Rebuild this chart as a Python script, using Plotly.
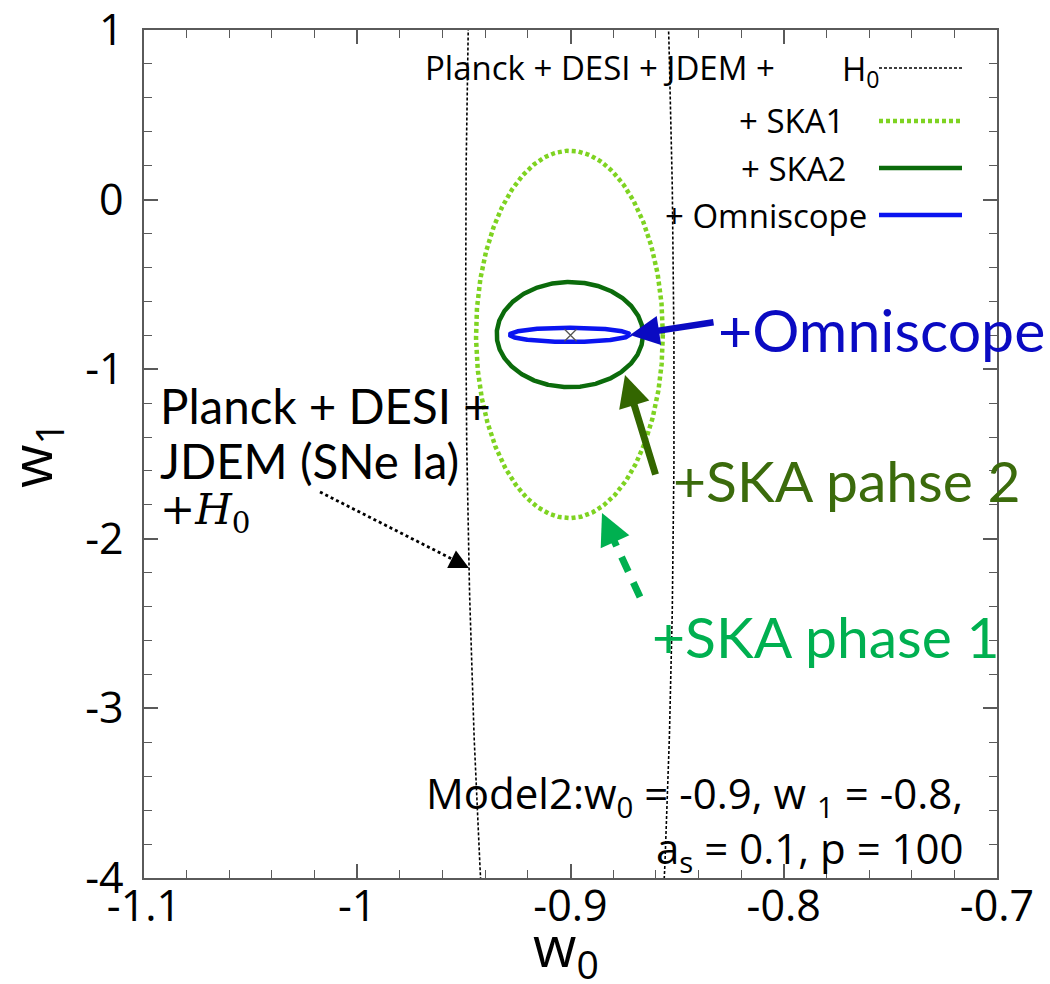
import numpy as np
import plotly.graph_objects as go

# ---------------- data ----------------
fid_w0 = [-0.9]
fid_w1 = [-0.8]
ref_w0 = -1.0
ref_w1 = -1.0

ell_names = ["Planck + DESI + JDEM + H0", "+ SKA1", "+ SKA2", "+ Omniscope"]
ell_cx = [-0.9003, -0.9005, -0.9003, -0.9003]
ell_cy = [-0.825, -0.795, -0.796, -0.797]
ell_sx = [0.0488, 0.0438, 0.0343, 0.0281]
ell_sy = [6.76, 1.083, 0.310, 0.042]
ell_shear = [-0.00038, 0.0, 0.0, 0.0]   # dx/dy drift of the contour centre

x_ticks = [-1.1, -1.0, -0.9, -0.8, -0.7]
x_tick_text = ["-1.1", "-1", "-0.9", "-0.8", "-0.7"]
y_ticks = [1, 0, -1, -2, -3, -4]
y_tick_text = ["1", "0", "-1", "-2", "-3", "-4"]

# ---------------- layout geometry ----------------
W, H = 1050, 984
L, R, T, B = 144, 997, 30, 878
XR = [-1.1, -0.7]
YR = [-4, 1]


def px2x(px):
    return XR[0] + (px - L) / (R - L) * (XR[1] - XR[0])


def py2y(py):
    return YR[1] - (py - T) / (B - T) * (YR[1] - YR[0])


def ppx(px):
    return (px - L) / (R - L)


def ppy(py):
    return (B - py) / (B - T)


styles = [
    dict(color="black", width=1.6, dash="3px,2px"),
    dict(color="#7ed321", width=4.5, dash="4px,3px"),
    dict(color="#0b6b0b", width=4.5, dash="solid"),
    dict(color="#0a14f0", width=4.5, dash="solid"),
]

fig = go.Figure()

t = np.linspace(0, 2 * np.pi, 721)
for i in range(len(ell_names)):
    ys = ell_cy[i] + ell_sy[i] * np.sin(t)
    xs = ell_cx[i] + ell_sx[i] * np.cos(t) + ell_shear[i] * (ys - ell_cy[i])
    fig.add_trace(go.Scatter(x=xs, y=ys, mode="lines", line=styles[i],
                             name=ell_names[i], showlegend=False,
                             hoverinfo="skip", cliponaxis=True))

fig.add_trace(go.Scatter(x=fid_w0, y=fid_w1, mode="markers",
                         marker=dict(symbol="x-thin", size=12,
                                     line=dict(color="#555555", width=1.3)),
                         showlegend=False))

fig.add_vline(x=ref_w0, line=dict(color="#555555", width=1.5), layer="below")
fig.add_hline(y=ref_w1, line=dict(color="#555555", width=1.5), layer="below")

ann = []
shapes = []

# ---- manual key (gnuplot style) ----
key_rows = [68, 121, 168, 215]
key_font = dict(family="Open Sans", size=33, color="black")
ann.append(dict(xref="paper", yref="paper", x=ppx(777), y=ppy(key_rows[0]),
                text="Planck + DESI + JDEM +", showarrow=False,
                xanchor="right", yanchor="middle", font=key_font))
ann.append(dict(xref="paper", yref="paper", x=ppx(840), y=ppy(key_rows[0] + 2),
                text="H<sub>0</sub>", showarrow=False,
                xanchor="left", yanchor="middle", font=key_font))
key_text = ["+ SKA1", "+ SKA2", "+ Omniscope"]
key_end = [846, 848, 869]
for i in range(3):
    ann.append(dict(xref="paper", yref="paper", x=ppx(key_end[i]),
                    y=ppy(key_rows[i + 1]), text=key_text[i],
                    showarrow=False, xanchor="right", yanchor="middle",
                    font=key_font))
for i in range(4):
    st = styles[i]
    fig.add_trace(go.Scatter(x=[px2x(879), px2x(962)],
                             y=[py2y(key_rows[i]), py2y(key_rows[i])],
                             mode="lines", line=st, showlegend=False,
                             hoverinfo="skip"))

# ---- big labels ----
gfont = "Lato"
ann.append(dict(xref="paper", yref="paper", x=ppx(716), y=ppy(329),
                text="+Omniscope", showarrow=False, xanchor="left",
                yanchor="middle",
                font=dict(family=gfont, size=59, color="#0a0ac2")))
ann.append(dict(xref="paper", yref="paper", x=ppx(671), y=ppy(480),
                text="+SKA pahse 2", showarrow=False, xanchor="left",
                yanchor="middle",
                font=dict(family=gfont, size=57, color="#3b6b0c")))
ann.append(dict(xref="paper", yref="paper", x=ppx(650), y=ppy(636),
                text="+SKA phase 1", showarrow=False, xanchor="left",
                yanchor="middle",
                font=dict(family=gfont, size=57, color="#00b050")))
for txt, yy in [("Planck + DESI +", 405), ("JDEM (SNe Ia)", 460)]:
    ann.append(dict(xref="paper", yref="paper", x=ppx(158), y=ppy(yy),
                    text=txt, showarrow=False, xanchor="left",
                    yanchor="middle",
                    font=dict(family=gfont, size=47.5, color="black")))
ann.append(dict(xref="paper", yref="paper", x=ppx(158), y=ppy(512),
                text="+<i>H</i><sub>0</sub>", showarrow=False,
                xanchor="left", yanchor="middle",
                font=dict(family="DejaVu Serif", size=42, color="black")))

# Model text
ann.append(dict(xref="paper", yref="paper", x=ppx(965), y=ppy(795),
                text="Model2:w<sub>0</sub> = -0.9, w <sub>1</sub> = -0.8,",
                showarrow=False, xanchor="right", yanchor="middle",
                font=dict(family="Open Sans", size=42, color="black")))
ann.append(dict(xref="paper", yref="paper", x=ppx(966), y=ppy(850),
                text="a<sub>s</sub> = 0.1, p = 100",
                showarrow=False, xanchor="right", yanchor="middle",
                font=dict(family="Open Sans", size=42, color="black")))

# axis titles as annotations
ann.append(dict(xref="paper", yref="paper", x=ppx(34), y=ppy(455),
                text="w<sub>1</sub>", showarrow=False, textangle=-90,
                xanchor="center", yanchor="middle",
                font=dict(family="Open Sans", size=56, color="black")))
ann.append(dict(xref="paper", yref="paper", x=ppx(566), y=ppy(949),
                text="w<sub>0</sub>", showarrow=False,
                xanchor="center", yanchor="middle",
                font=dict(family="Open Sans", size=56, color="black")))

# ---- arrows ----
# blue solid
ann.append(dict(xref="x", yref="y", axref="x", ayref="y",
                x=px2x(630), y=py2y(335), ax=px2x(715), ay=py2y(322),
                text="", showarrow=True, arrowhead=2, arrowsize=0.9,
                arrowwidth=6.5, arrowcolor="#0a0ac2"))
# dark green solid
ann.append(dict(xref="x", yref="y", axref="x", ayref="y",
                x=px2x(625), y=py2y(375), ax=px2x(656), ay=py2y(476),
                text="", showarrow=True, arrowhead=2, arrowsize=0.9,
                arrowwidth=7, arrowcolor="#336600"))
# green dashed
shapes.append(dict(type="line", xref="x", yref="y",
                   x0=px2x(640), y0=py2y(597), x1=px2x(610), y1=py2y(532),
                   line=dict(color="#00b050", width=7, dash="16px,12px")))
ann.append(dict(xref="x", yref="y", axref="x", ayref="y",
                x=px2x(602), y=py2y(513), ax=px2x(612), ay=py2y(535),
                text="", showarrow=True, arrowhead=2, arrowsize=0.9,
                arrowwidth=7, arrowcolor="#00b050"))
# black dotted
shapes.append(dict(type="line", xref="x", yref="y",
                   x0=px2x(320), y0=py2y(492), x1=px2x(456), y1=py2y(561),
                   line=dict(color="black", width=2.8, dash="dot")))
ann.append(dict(xref="x", yref="y", axref="x", ayref="y",
                x=px2x(469), y=py2y(568), ax=px2x(455), ay=py2y(561),
                text="", showarrow=True, arrowhead=2, arrowsize=1.3,
                arrowwidth=3, arrowcolor="black"))

axis_common = dict(showgrid=False, zeroline=False, showline=True,
                   linecolor="#5a5a5a", linewidth=1.5, mirror="allticks",
                   ticks="inside", ticklen=14, tickwidth=1.5,
                   tickcolor="#5a5a5a", automargin=False,
                   tickfont=dict(family="Open Sans", size=43, color="black"))

fig.update_layout(
    width=W, height=H,
    margin=dict(l=L, r=W - R, t=T, b=H - B),
    plot_bgcolor="white", paper_bgcolor="white",
    showlegend=False,
    annotations=ann, shapes=shapes,
    xaxis=dict(range=XR, tickmode="array", tickvals=x_ticks,
               ticktext=x_tick_text,
               minor=dict(dtick=0.02, ticks="inside", ticklen=8,
                          tickwidth=1.3, tickcolor="#5a5a5a"),
               ticklabelstandoff=-10,
               **axis_common),
    yaxis=dict(range=[YR[0], YR[1] + 1e-6], tickmode="array",
               tickvals=y_ticks, ticktext=y_tick_text,
               minor=dict(dtick=0.2, ticks="inside", ticklen=8,
                          tickwidth=1.3, tickcolor="#5a5a5a"),
               ticklabelstandoff=10, ticklabeloverflow="allow",
               **axis_common),
)

fig.write_html("out.html")
